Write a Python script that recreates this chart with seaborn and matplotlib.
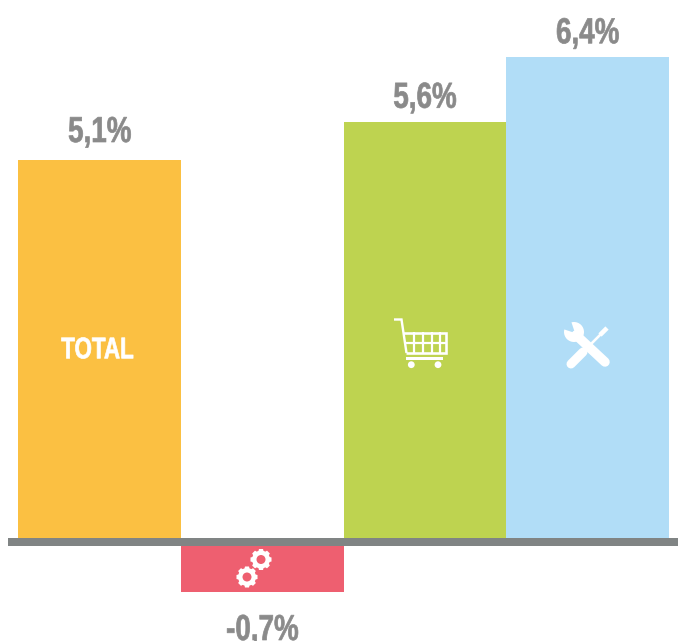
import numpy as np
import pandas as pd
import seaborn as sns
import matplotlib
matplotlib.use("Agg")
import matplotlib.pyplot as plt
from matplotlib.patches import Circle, Polygon
from matplotlib.patheffects import AbstractPathEffect
from matplotlib.transforms import Affine2D

categories = ['total', 'industry', 'commerce', 'services']
values = [5.04, -0.72, 5.55, 6.41]
value_labels = ['5,1%', '-0,7%', '5,6%', '6,4%']
bar_colors = ['#FBC042', '#EE5F70', '#BED350', '#B1DDF7']
label_color = '#8A8A8A'
axis_color = '#808484'

W, H = 678, 641
sns.set_theme(style='white')
plt.rcParams['font.family'] = ['Liberation Sans', 'DejaVu Sans']


class Narrow(AbstractPathEffect):
    # no condensed bold installed, so squeeze the glyphs around their centre
    def __init__(self, factor, color, weight=0.5):
        super().__init__()
        self.factor = factor
        self.color = color
        self.weight = weight

    def draw_path(self, renderer, gc, tpath, affine, rgbFace=None):
        box = tpath.get_extents(affine)
        cx = (box.x0 + box.x1) / 2
        squeeze = Affine2D().translate(-cx, 0).scale(self.factor, 1).translate(cx, 0)
        gc0 = renderer.new_gc()
        gc0.copy_properties(gc)
        gc0.set_foreground(self.color)
        gc0.set_linewidth(self.weight)
        renderer.draw_path(gc0, tpath, affine + squeeze, rgbFace)
        gc0.restore()


fig = plt.figure(figsize=(W / 100, H / 100), dpi=100)
ax = fig.add_axes([0, 0, 1, 1])

df = pd.DataFrame({'category': categories, 'value': values})
sns.barplot(data=df, x='category', y='value', hue='category', palette=bar_colors,
            width=1, dodge=False, legend=False, saturation=1, ax=ax, linewidth=0)

# bars run from 18px to 669px, zero sits at 538px
left_px = 18.4
unit_x = (669 - left_px) / 4
unit_y = 75
ax.set_xlim(-0.5 - left_px / unit_x, 3.5 + 9 / unit_x)
ax.set_ylim(-(H - 538) / unit_y, 538 / unit_y)
ax.axis('off')

ax.plot([-0.5 - 10 / unit_x, ax.get_xlim()[1]], [-4 / unit_y, -4 / unit_y], color=axis_color,
        lw=8 * 72 / 100, solid_capstyle='butt', zorder=5)

# baseline gap to the bar end, in pixels
label_gaps = [18, -48, 14, 14]
for i, (v, lab) in enumerate(zip(values, value_labels)):
    ax.annotate(lab, (i, v), xytext=(0, label_gaps[i] * 72 / 100), textcoords='offset points',
                ha='center', va='baseline', fontsize=26, fontweight='bold', color=label_color,
                path_effects=[Narrow(0.77, label_color)])

ax.text(-2 / unit_x, (538 - 358.3) / unit_y, 'TOTAL', ha='center', va='baseline', fontsize=21.5,
        fontweight='bold', color='white', path_effects=[Narrow(0.75, 'white')])

# icons are drawn on an overlay in pixel coordinates
ic = fig.add_axes([0, 0, 1, 1], facecolor='none')
ic.set_xlim(0, W)
ic.set_ylim(H, 0)
ic.axis('off')


def px(n):
    return n * 72 / 100


def stroke(points, width, cap='butt'):
    xs, ys = zip(*points)
    ic.plot(xs, ys, color='white', lw=px(width), solid_capstyle=cap, solid_joinstyle='miter')


def draw_cart():
    stroke([(394, 319.5), (401.5, 319.5), (406.5, 353)], 2.4)
    stroke([(403, 332.5), (446, 332.5), (446, 352.5), (406, 352.5)], 2.6)
    for x in (414, 423, 432, 440):
        stroke([(x, 332), (x, 353)], 2.2)
    stroke([(404, 342.5), (446, 342.5)], 2.2)
    ic.add_patch(Polygon([(406, 357), (443, 357), (443, 360), (406, 360)], fc='white', ec='none'))
    for x in (411.3, 438):
        ic.add_patch(Circle((x, 364.7), 3.4, fc='white', ec='none'))


def draw_tools():
    bg = bar_colors[3]
    stroke([(583, 352), (603, 332)], 2.6)
    stroke([(600, 335), (607, 328)], 4.6)
    stroke([(571, 364), (583, 352)], 9, cap='round')
    stroke([(576, 335), (605, 362)], 9.5, cap='round')
    ic.add_patch(Circle((574, 332), 10, fc='white', ec='none'))
    ic.add_patch(Polygon([(575, 333), (563, 329), (570, 318)], fc=bg, ec='none'))


def draw_gear(cx, cy, r, teeth=8):
    pts = []
    for k in range(teeth):
        a = 2 * np.pi * k / teeth
        step = 2 * np.pi / teeth
        for da, rr in ((-0.30, 0.84), (-0.20, 1.0), (0.20, 1.0), (0.30, 0.84)):
            t = a + da * step * 1.2
            pts.append((cx + r * rr * np.cos(t), cy + r * rr * np.sin(t)))
    ic.add_patch(Polygon(pts, fc='white', ec='none'))
    ic.add_patch(Circle((cx, cy), r * 0.42, fc=bar_colors[1], ec='none'))


draw_cart()
draw_tools()
draw_gear(261, 559.5, 10.7)
draw_gear(247, 577, 10.7)

fig.savefig('out.png', dpi=100, facecolor='white')
plt.close(fig)
